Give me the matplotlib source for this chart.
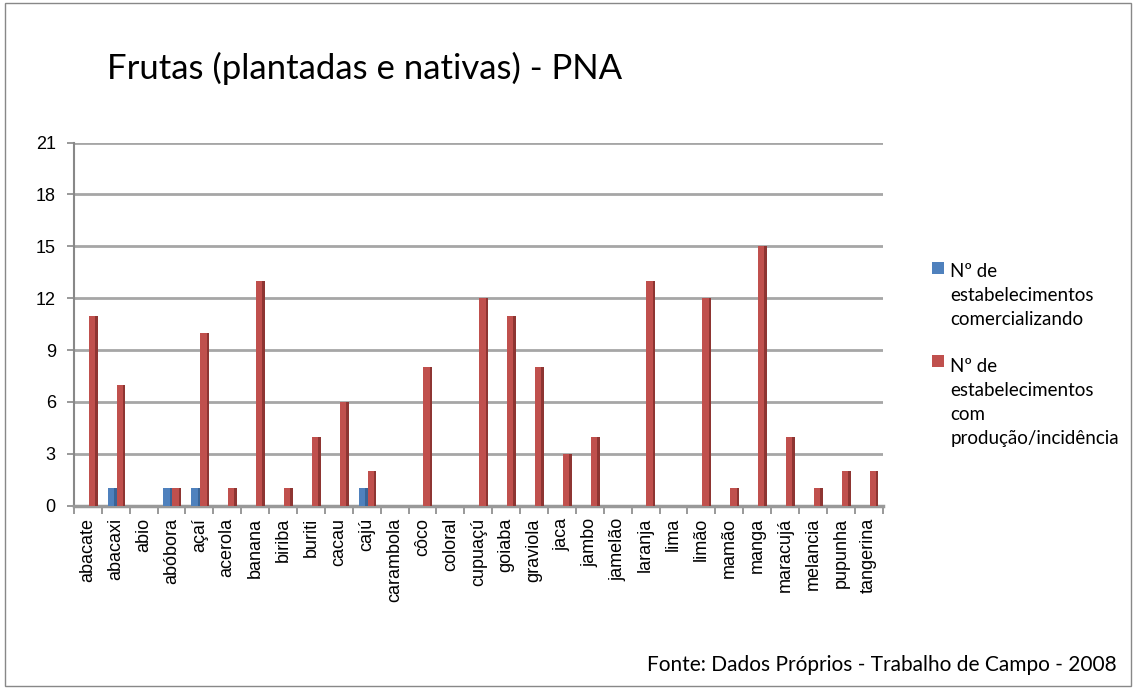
import numpy as np
import matplotlib.pyplot as plt
from matplotlib.patches import Rectangle
from matplotlib.legend_handler import HandlerPatch

frutas = ["abacate", "abacaxi", "abio", "abóbora", "açaí", "acerola", "banana",
          "biriba", "buriti", "cacau", "cajú", "carambola", "côco", "coloral",
          "cupuaçú", "goiaba", "graviola", "jaca", "jambo", "jamelão", "laranja",
          "lima", "limão", "mamão", "manga", "maracujá", "melancia", "pupunha",
          "tangerina"]
comercializando = [0, 1, 0, 1, 1, 0, 0, 0, 0, 0, 1, 0, 0, 0, 0, 0, 0, 0, 0, 0,
                   0, 0, 0, 0, 0, 0, 0, 0, 0]
producao = [11, 7, 0, 1, 10, 1, 13, 1, 4, 6, 2, 0, 8, 0, 12, 11, 8, 3, 4, 0,
            13, 0, 12, 1, 15, 4, 1, 2, 2]
yticks = [0, 3, 6, 9, 12, 15, 18, 21]

lab1 = "Nº de\nestabelecimentos\ncomercializando"
lab2 = "Nº de\nestabelecimentos\ncom\nprodução/incidência"

blue, blue_dk = "#4f81bd", "#3a6496"
red, red_dk = "#c0504d", "#8e3532"

LEG_FS = 13.5
LEG_LS = 1.5


def top_square(n_lines):
    # legend square next to the first line of a multi-line label
    def make(legend, orig_handle, xdescent, ydescent, width, height, fontsize):
        up = (n_lines - 1) / 2 * LEG_LS * fontsize
        return Rectangle((-xdescent, -ydescent + up), width, height)
    return HandlerPatch(patch_func=make)


fig = plt.figure(figsize=(11.36, 6.89), dpi=100)
fig.patches.append(Rectangle((0.004, 0.004), 0.992, 0.992, transform=fig.transFigure,
                             fill=False, edgecolor="#888888", lw=1))

ax = fig.add_axes([0.065, 0.266, 0.712, 0.527])
x = np.arange(len(frutas))
w = 0.32
b1 = ax.bar(x - 0.13, comercializando, width=w, color=blue, label=lab1, zorder=3)
ax.bar(x - 0.13 + w/2 - 0.045, comercializando, width=0.09, color=blue_dk, zorder=3)
b2 = ax.bar(x + 0.19, producao, width=w, color=red, label=lab2, zorder=3)
ax.bar(x + 0.19 + w/2 - 0.045, producao, width=0.09, color=red_dk, zorder=3)

ax.set_xlim(-0.5, len(frutas) - 0.5)
ax.set_ylim(0, 21)
ax.set_yticks(yticks)
ax.set_xticks(x)
ax.set_xticklabels(frutas, rotation=90, fontsize=13, family="Liberation Sans")
ax.set_xticks(np.arange(len(frutas) + 1) - 0.5, minor=True)
ax.tick_params(axis="x", which="major", length=0, pad=9)
ax.tick_params(axis="x", which="minor", length=6, color="#888888", width=1.2)
ax.tick_params(axis="y", length=5, color="#888888", width=1.2, labelsize=13, pad=8)
for lbl in ax.get_yticklabels():
    lbl.set_family("Liberation Sans")
ax.grid(axis="y", color="#a6a6a6", lw=2, zorder=0)
for s in ["top", "right"]:
    ax.spines[s].set_visible(False)
ax.spines["left"].set_color("#888888")
ax.spines["left"].set_linewidth(1.5)
ax.spines["bottom"].set_color("#999999")
ax.spines["bottom"].set_linewidth(2.5)

fig.text(0.094, 0.9, "Frutas (plantadas e nativas) - PNA", fontsize=25,
         family="Lato", va="center")

h1, h2 = b1.patches[0], b2.patches[0]
leg = fig.legend([h1, h2], [lab1, lab2], loc="upper left",
                 bbox_to_anchor=(0.806, 0.643), frameon=False,
                 prop={"family": "Lato", "size": LEG_FS}, handlelength=0.6,
                 handleheight=0.6, handletextpad=0.35, labelspacing=1.6,
                 alignment="left",
                 handler_map={h1: top_square(3), h2: top_square(4)})
for t in leg.get_texts():
    t.set_linespacing(LEG_LS)

fig.text(0.983, 0.035, "Fonte: Dados Próprios - Trabalho de Campo - 2008",
         fontsize=15, family="Lato", ha="right", va="center")

fig.savefig("out.png", dpi=100)
